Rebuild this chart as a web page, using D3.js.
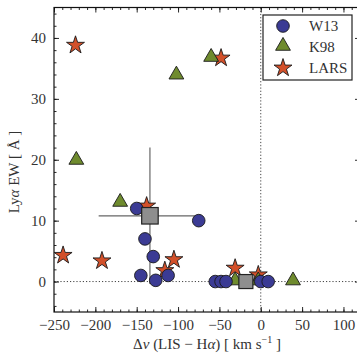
<!DOCTYPE html>
<html><head><meta charset="utf-8">
<script src="https://cdn.jsdelivr.net/npm/d3@7"></script>
<style>body{margin:0;background:#fff}svg{display:block}svg text{font-family:"Liberation Serif","DejaVu Serif",serif}</style>
</head><body>
<svg id="c" width="357" height="353"></svg>
<script>
// W13 (circles)
const w13V  = [-150, -75, -140, -130, -145, -127, -112, -55, -48, -42, 0, 9];
const w13EW = [12.0, 10.0, 7.0, 4.1, 1.0, 0.2, 1.0, 0, 0, 0, 0, 0];
// K98 (triangles)
const k98V  = [-223, -102, -60, -170, 39, -31, -3];
const k98EW = [19.8, 33.8, 36.7, 12.9, 0, 0, 0];
// LARS (stars)
const larsV  = [-224, -48, -239, -192, -105, -116, -138, -31, -3];
const larsEW = [38.8, 36.7, 4.3, 3.4, 3.6, 1.8, 12.4, 2.2, 1.1];
// mean points with error bars
const meanV   = [-134, -18];
const meanEW  = [10.8, 0];
const meanVerr  = [62, 32];
const meanEWerr = [11.2, 0];
const xTicks = [-250, -200, -150, -100, -50, 0, 50, 100];
const yTicks = [0, 10, 20, 30, 40];

const svg = d3.select("#c");
const L = 54, R = 360, T = 7.5, B = 312;
const x = d3.scaleLinear().domain([-250, 120]).range([L, R]);
const y = d3.scaleLinear().domain([-5, 45]).range([B, T]);
const font = "Liberation Serif, DejaVu Serif, serif";

// reference dotted lines
svg.append("line").attr("x1", L).attr("x2", R).attr("y1", y(0)).attr("y2", y(0))
  .attr("stroke", "#444").attr("stroke-width", 1).attr("stroke-dasharray", "1.2,2");
svg.append("line").attr("x1", x(0)).attr("x2", x(0)).attr("y1", T).attr("y2", B)
  .attr("stroke", "#444").attr("stroke-width", 1).attr("stroke-dasharray", "1.2,2");

// axes with inward ticks
const xMinor = d3.range(-250, 121, 10);
const yMinor = d3.range(-4, 45, 2);
function axis(gen, tr, ticks, len, labels) {
  const g = svg.append("g").attr("transform", tr)
    .call(gen.tickValues(ticks).tickSizeInner(len).tickSizeOuter(0)
      .tickFormat(labels ? (d => d < 0 ? "\u2212" + Math.abs(d) : String(d)) : ""));
  g.attr("font-family", null);
  g.select(".domain").remove();
  g.selectAll(".tick line").attr("stroke", "#111").attr("stroke-width", 0.9);
  g.selectAll("text").style("font-family", font).attr("font-size", 15).attr("fill", "#333");
  return g;
}
axis(d3.axisBottom(x), `translate(0,${B})`, xMinor, -2.5, false);
const xb = axis(d3.axisBottom(x), `translate(0,${B})`, xTicks, -5, true);
xb.selectAll("text").attr("dy", 0).attr("y", 18);
axis(d3.axisTop(x), `translate(0,${T})`, xMinor, -2.5, false);
axis(d3.axisTop(x), `translate(0,${T})`, xTicks, -5, false);
axis(d3.axisLeft(y), `translate(${L},0)`, yMinor, -2.5, false);
const yl = axis(d3.axisLeft(y), `translate(${L},0)`, yTicks, -5, true);
yl.selectAll("text").attr("x", -8);
axis(d3.axisRight(y), `translate(${R},0)`, yMinor, -2.5, false);
axis(d3.axisRight(y), `translate(${R},0)`, yTicks, -5, false);

// frame
svg.append("rect").attr("x", L).attr("y", T).attr("width", R - L).attr("height", B - T)
  .attr("fill", "none").attr("stroke", "#111").attr("stroke-width", 1.2);

// error bars
meanV.forEach((v, i) => {
  svg.append("line").attr("x1", x(v - meanVerr[i])).attr("x2", x(v + meanVerr[i]))
    .attr("y1", y(meanEW[i])).attr("y2", y(meanEW[i]))
    .attr("stroke", i === 0 ? "#666" : "#8fb0c8").attr("stroke-width", 1.2);
  if (meanEWerr[i] > 0)
    svg.append("line").attr("x1", x(v)).attr("x2", x(v))
      .attr("y1", y(meanEW[i] - meanEWerr[i])).attr("y2", y(meanEW[i] + meanEWerr[i]))
      .attr("stroke", "#666").attr("stroke-width", 1.2);
});

const sym = {
  circle: d3.symbol().type(d3.symbolCircle).size(125),
  tri: d3.symbol().type(d3.symbolTriangle).size(95),
  star: d3.symbol().type(d3.symbolStar).size(100)
};
const colW = "#3b3b94", colK = "#6f8b2e", colL = "#d2502a";

function plot(vs, ews, path, fill, dy) {
  svg.append("g").selectAll("path").data(vs).join("path")
    .attr("transform", (d, i) => `translate(${x(d)},${y(ews[i]) + (dy || 0)})`)
    .attr("d", path).attr("fill", fill).attr("stroke", "#1a1a1a").attr("stroke-width", 0.9);
}
plot(larsV, larsEW, sym.star(), colL, 0);
plot(k98V, k98EW, sym.tri(), colK, -1);
plot(w13V, w13EW, sym.circle(), colW, 0);

// mean squares
const sq = [16.5, 14];
svg.append("g").selectAll("rect").data(meanV).join("rect")
  .attr("x", (d, i) => x(d) - sq[i] / 2).attr("y", (d, i) => y(meanEW[i]) - sq[i] / 2)
  .attr("width", (d, i) => sq[i]).attr("height", (d, i) => sq[i])
  .attr("fill", "#8e8e8e").attr("stroke", "#222").attr("stroke-width", 1.2);

// legend
const lg = svg.append("g");
lg.append("rect").attr("x", 263).attr("y", 15).attr("width", 89).attr("height", 65)
  .attr("fill", "#fff").attr("stroke", "#222").attr("stroke-width", 1.2);
const legNames = ["W13", "K98", "LARS"];
const legPaths = [sym.circle(), sym.tri(), sym.star()];
const legCols = [colW, colK, colL];
legNames.forEach((n, i) => {
  const yy = 26 + i * 21;
  lg.append("path").attr("transform", `translate(283,${yy + (i === 1 ? -1 : 0)})`)
    .attr("d", legPaths[i]).attr("fill", legCols[i]).attr("stroke", "#1a1a1a").attr("stroke-width", 0.9);
  lg.append("text").attr("x", 309).attr("y", yy + 5).text(n)
    .style("font-family", font).attr("font-size", 15).attr("fill", "#333");
});

// axis labels
const xl = svg.append("text").attr("x", (L + R) / 2).attr("y", 349).attr("text-anchor", "middle")
  .style("font-family", font).attr("font-size", 15).attr("fill", "#333");
xl.append("tspan").text("\u0394");
xl.append("tspan").attr("font-style", "italic").text("v");
xl.append("tspan").text(" (LIS \u2212 H");
xl.append("tspan").attr("font-style", "italic").text("\u03b1");
xl.append("tspan").text(") [ km s");
xl.append("tspan").attr("font-size", 10).attr("dy", -6).text("\u22121");
xl.append("tspan").attr("dy", 6).text(" ]");

const ylab = svg.append("text").attr("transform", "translate(19,172) rotate(-90)")
  .attr("text-anchor", "middle").style("font-family", font).attr("font-size", 15).attr("fill", "#333");
ylab.append("tspan").text("Ly");
ylab.append("tspan").attr("font-style", "italic").text("\u03b1");
ylab.append("tspan").text(" EW [ \u00c5 ]");
</script>
</body></html>
